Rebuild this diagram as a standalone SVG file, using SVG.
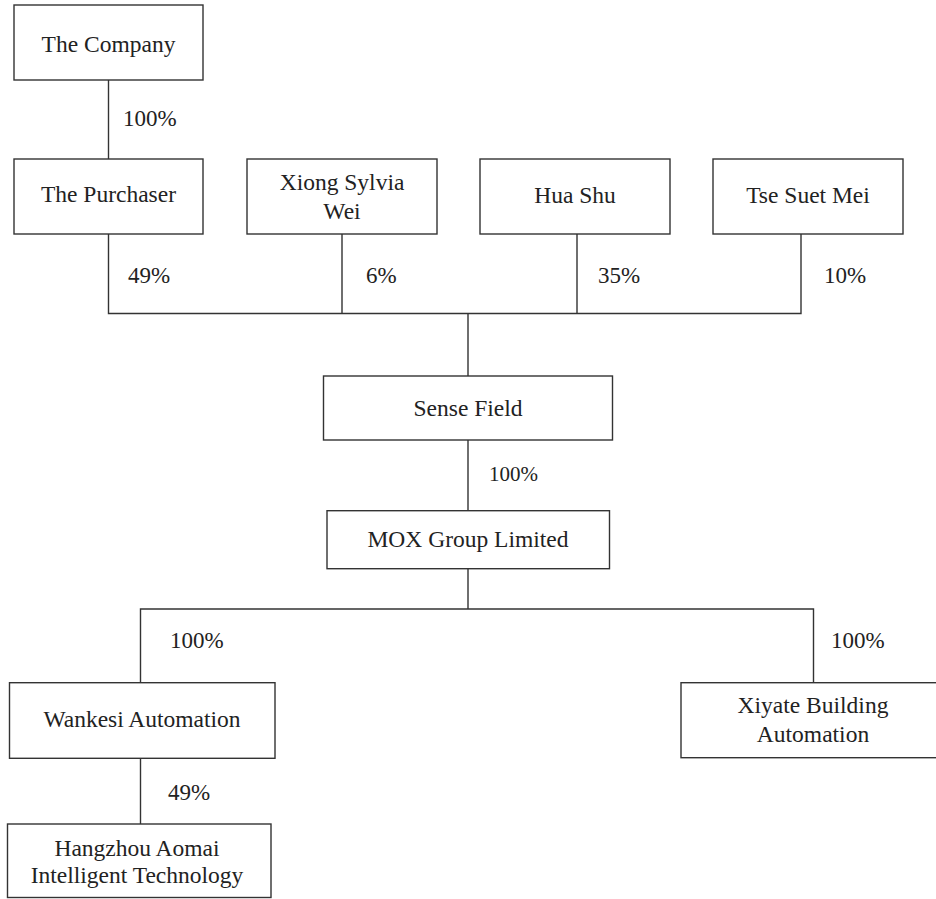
<svg xmlns="http://www.w3.org/2000/svg" width="936" height="899" viewBox="0 0 936 899">
<style>
.box{fill:#fff;stroke:#333;stroke-width:1.4}
.ln{fill:none;stroke:#333;stroke-width:1.4}
text{font-family:"Liberation Serif","Times New Roman",serif;font-size:23.5px;fill:#222}
.c{text-anchor:middle}
.p{font-size:23px}
</style>
<rect width="936" height="899" fill="#fff"/>
<g id="connectors">
<path class="ln" d="M108.5 80V159"/>
<path class="ln" d="M108.5 234V313.5H801V234M342 234V313.5M577 234V313.5M468 313.5V376"/>
<path class="ln" d="M468 440V510.7"/>
<path class="ln" d="M468 568.7V609M140.5 682.7V609H813.5V682.7"/>
<path class="ln" d="M140.5 758.3V824"/>
<text class="p" x="123" y="126">100%</text>
<text class="p" x="128" y="283">49%</text>
<text class="p" x="366" y="283">6%</text>
<text class="p" x="598" y="283">35%</text>
<text class="p" x="824" y="283">10%</text>
<text class="p" x="489" y="481" style="font-size:21px">100%</text>
<text class="p" x="170" y="648">100%</text>
<text class="p" x="831" y="648">100%</text>
<text class="p" x="168" y="800">49%</text>
</g>
<g id="company"><rect class="box" x="14" y="5" width="189" height="75"/><text class="c" x="108.5" y="52">The Company</text></g>
<g id="purchaser"><rect class="box" x="14" y="159" width="189" height="75"/><text class="c" x="108.5" y="202">The Purchaser</text></g>
<g id="xiong"><rect class="box" x="247" y="159" width="190" height="75"/><text class="c" x="342" y="190">Xiong Sylvia</text><text class="c" x="342" y="219">Wei</text></g>
<g id="huashu"><rect class="box" x="480" y="159" width="190" height="75"/><text class="c" x="575" y="203">Hua Shu</text></g>
<g id="tse"><rect class="box" x="713" y="159" width="190" height="75"/><text class="c" x="808" y="203">Tse Suet Mei</text></g>
<g id="sensefield"><rect class="box" x="323.5" y="376" width="289" height="64"/><text class="c" x="468" y="416">Sense Field</text></g>
<g id="mox"><rect class="box" x="327" y="510.7" width="282.5" height="58"/><text class="c" x="468" y="547">MOX Group Limited</text></g>
<g id="wankesi"><rect class="box" x="9.5" y="682.7" width="265.5" height="75.6"/><text class="c" x="142" y="727">Wankesi Automation</text></g>
<g id="xiyate"><rect class="box" x="681" y="682.7" width="270" height="75"/><text class="c" x="813" y="713">Xiyate Building</text><text class="c" x="813" y="742">Automation</text></g>
<g id="hangzhou"><rect class="box" x="7.5" y="824" width="263.5" height="73.5"/><text class="c" x="137" y="856">Hangzhou Aomai</text><text class="c" x="137" y="883">Intelligent Technology</text></g>
</svg>
